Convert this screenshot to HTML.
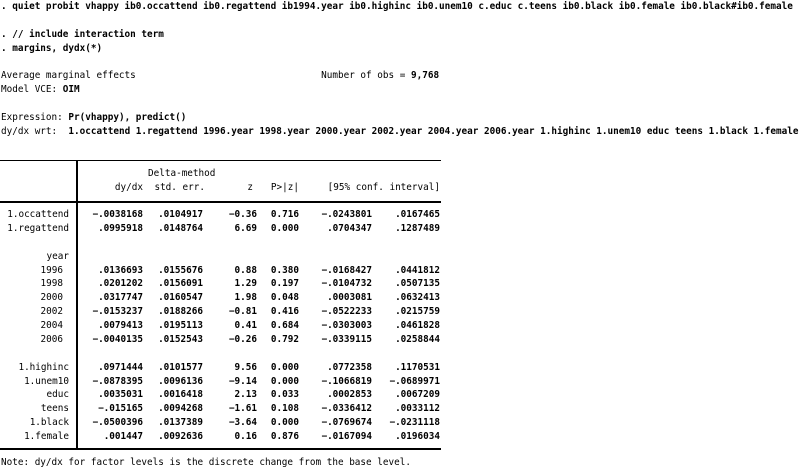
<!DOCTYPE html>
<html><head><meta charset="utf-8">
<style>
html,body{margin:0;padding:0;background:#fff;}
body{width:810px;height:469px;position:relative;overflow:hidden;font-family:"DejaVu Sans Mono","Liberation Mono",monospace;font-size:9.34px;color:#000;}
.ln{position:absolute;left:1px;white-space:pre;line-height:12px;height:12px;}
.b{font-weight:bold;}
.c{position:absolute;white-space:pre;line-height:12px;height:12px;text-align:right;}
.rule{position:absolute;background:#000;left:0;width:441px;}
</style></head>
<body>
<div class="ln b" style="top:1px">. quiet probit vhappy ib0.occattend ib0.regattend ib1994.year ib0.highinc ib0.unem10 c.educ c.teens ib0.black ib0.female ib0.black#ib0.female</div>
<div class="ln b" style="top:29px">. // include interaction term</div>
<div class="ln b" style="top:43px">. margins, dydx(*)</div>
<div class="ln" style="top:70px">Average marginal effects                                 Number of obs = <b>9,768</b></div>
<div class="ln" style="top:84px">Model VCE: <b>OIM</b></div>
<div class="ln" style="top:112px">Expression: <b>Pr(vhappy), predict()</b></div>
<div class="ln" style="top:126px">dy/dx wrt:  <b>1.occattend 1.regattend 1996.year 1998.year 2000.year 2002.year 2004.year 2006.year 1.highinc 1.unem10 educ teens 1.black 1.female</b></div>

<div class="rule" style="top:160px;height:1px"></div>
<div class="rule" style="top:201px;height:2px"></div>
<div class="rule" style="top:448px;height:2px"></div>
<div style="position:absolute;left:76px;top:160px;width:2px;height:290px;background:#000"></div>

<div class="c" style="left:148px;width:72px;text-align:left;top:168px">Delta-method</div>
<div class="c" style="right:667px;top:182px">dy/dx</div>
<div class="c" style="right:605px;top:182px">std. err.</div>
<div class="c" style="right:557px;top:182px">z</div>
<div class="c" style="right:511px;top:182px">P&gt;|z|</div>
<div class="c" style="right:370px;top:182px">[95% conf. interval]</div>

<div id="rows"></div>
<div class="ln" style="top:457px">Note: dy/dx for factor levels is the discrete change from the base level.</div>

<script>
const labels=["1.occattend","1.regattend","","year","1996","1998","2000","2002","2004","2006","","1.highinc","1.unem10","educ","teens","1.black","1.female"];
const dydx=["-.0038168",".0995918","","",".0136693",".0201202",".0317747","-.0153237",".0079413","-.0040135","",".0971444","-.0878395",".0035031","-.015165","-.0500396",".001447"];
const se=[".0104917",".0148764","","",".0155676",".0156091",".0160547",".0188266",".0195113",".0152543","",".0101577",".0096136",".0016418",".0094268",".0137389",".0092636"];
const zv=["-0.36","6.69","","","0.88","1.29","1.98","-0.81","0.41","-0.26","","9.56","-9.14","2.13","-1.61","-3.64","0.16"];
const pv=["0.716","0.000","","","0.380","0.197","0.048","0.416","0.684","0.792","","0.000","0.000","0.033","0.108","0.000","0.876"];
const lo=["-.0243801",".0704347","","","-.0168427","-.0104732",".0003081","-.0522233","-.0303003","-.0339115","",".0772358","-.1066819",".0002853","-.0336412","-.0769674","-.0167094"];
const hi=[".0167465",".1287489","","",".0441812",".0507135",".0632413",".0215759",".0461828",".0258844","",".1170531","-.0689971",".0067209",".0033112","-.0231118",".0196034"];
const host=document.getElementById('rows');
const rightEdges=[143,203,257,299,372,440];
const colNames=['dydx','std-err','z','p-value','ci-lower','ci-upper'];
for(let i=0;i<labels.length;i++){
  const top=209+i*13.875;
  if(labels[i]){
    const l=document.createElement('div');
    l.className='c';
    const indent=/^\d{4}$/.test(labels[i])?6:0;
    l.style.right=(810-69+indent)+'px';
    l.style.top=top+'px';
    l.textContent=labels[i];
    
    
    host.appendChild(l);
  }
  const vals=[dydx[i],se[i],zv[i],pv[i],lo[i],hi[i]];
  for(let j=0;j<6;j++){
    if(!vals[j])continue;
    const c=document.createElement('div');
    c.className='c b';
    c.style.right=(810-rightEdges[j])+'px';
    c.style.top=top+'px';
    c.textContent=vals[j].replace(/^-/,'\u2212');
    
    
    host.appendChild(c);
  }
}
</script>
</body></html>
